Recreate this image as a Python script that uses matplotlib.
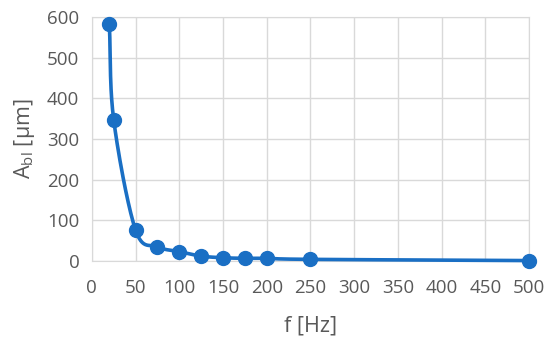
import numpy as np
import matplotlib.pyplot as plt

plt.rcParams['font.family'] = ['Open Sans', 'DejaVu Sans']
plt.rcParams['mathtext.fontset'] = 'custom'
plt.rcParams['mathtext.rm'] = 'Open Sans'

# frequency [Hz] and amplitude [um]
freq = [20, 25, 50, 75, 100, 125, 150, 175, 200, 250, 500]
ampl = [582, 347, 76, 35, 23, 12, 8, 6.5, 6.5, 4, 1]

x_ticks = list(range(0, 501, 50))
y_ticks = list(range(0, 601, 100))


def smooth(x, y, n=30):
    # Catmull-Rom style smoothing like Excel's smoothed line
    x = np.asarray(x, float)
    y = np.asarray(y, float)
    px = np.concatenate([[2 * x[0] - x[1]], x, [2 * x[-1] - x[-2]]])
    py = np.concatenate([[2 * y[0] - y[1]], y, [2 * y[-1] - y[-2]]])
    xs, ys = [], []
    t = np.linspace(0, 1, n)
    for i in range(1, len(px) - 2):
        p0, p1, p2, p3 = [np.array([px[k], py[k]]) for k in range(i - 1, i + 3)]
        c1 = p1 + (p2 - p0) / 6
        c2 = p2 - (p3 - p1) / 6
        pts = ((1 - t) ** 3)[:, None] * p1 + (3 * (1 - t) ** 2 * t)[:, None] * c1 \
            + (3 * (1 - t) * t ** 2)[:, None] * c2 + (t ** 3)[:, None] * p2
        xs.extend(pts[:, 0])
        ys.extend(pts[:, 1])
    return xs, ys


blue = '#1a6fc4'
grey = '#595959'
grid = '#d9d9d9'

fig = plt.figure(figsize=(5.5, 3.46), dpi=100)
ax = fig.add_axes([0.167, 0.2457, 0.795, 0.7053])

sx, sy = smooth(freq, ampl)
ax.plot(sx, sy, color=blue, lw=2.6, zorder=3, clip_on=False)
ax.plot(freq, ampl, 'o', color=blue, ms=10, zorder=4, clip_on=False)

ax.set_xlim(0, 500)
ax.set_ylim(0, 600)
ax.set_xticks(x_ticks)
ax.set_yticks(y_ticks)
ax.grid(True, color=grid, lw=1)
ax.set_axisbelow(True)
for s in ax.spines.values():
    s.set_color(grid)
ax.tick_params(length=0, colors=grey, labelsize=13.5)
ax.tick_params(axis='x', pad=13)
ax.tick_params(axis='y', pad=9)

ax.set_xlabel('f [Hz]', color=grey, fontsize=15.5, labelpad=13)
ax.set_ylabel(r'A$_{\mathrm{bl}}$ [µm]', color=grey, fontsize=15.5, labelpad=7)

fig.savefig('out.png', dpi=100)
